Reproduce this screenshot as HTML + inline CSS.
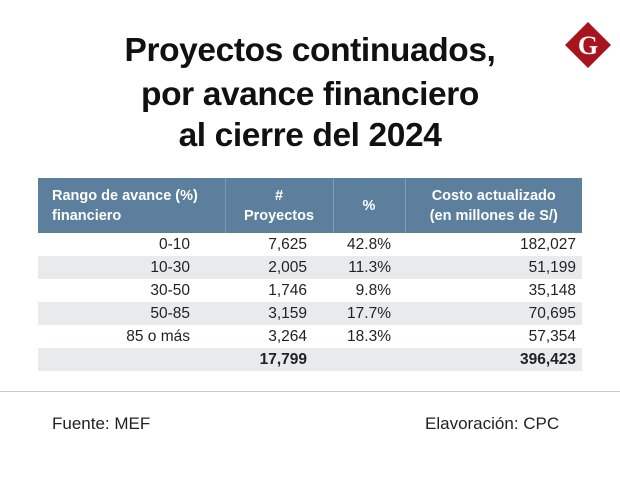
<!DOCTYPE html>
<html><head><meta charset="utf-8"><style>
body{margin:0;width:620px;height:490px;background:#fff;font-family:"Liberation Sans",sans-serif;position:relative;overflow:hidden}
.t{position:absolute;left:0;width:620px;text-align:center;font-weight:bold;font-size:33.5px;color:#111;letter-spacing:-0.4px}
table{position:absolute;left:38px;top:178px;width:544px;border-collapse:collapse;font-size:15.5px;color:#222;table-layout:fixed}
th{background:#5b7f9c;color:#fff;font-size:14.5px;font-weight:bold;height:55px;padding:0 6px;border-right:1px solid #7f9db5;line-height:20px}
th:last-child{border-right:none}
td{height:23px;padding:0 6px;text-align:right;line-height:23px}
td:nth-child(1){padding-right:35px}
td:nth-child(2){padding-right:26px}
td:nth-child(3){padding-right:14px}
tr.g td{background:#e9eaec}
.foot{position:absolute;top:414px;font-size:17px;color:#222}
</style></head><body>
<div class="t" style="top:32px">Proyectos continuados,</div>
<div class="t" style="top:76px">por avance financiero</div>
<div class="t" style="top:117px">al cierre del 2024</div>
<svg style="position:absolute;left:563px;top:20px" width="50" height="50" viewBox="0 0 50 50"><polygon points="25,2 48,25 25,48 2,25" fill="#a8141e"/><text x="25" y="34" text-anchor="middle" font-family="Liberation Serif" font-weight="bold" font-size="26" fill="#fff">G</text></svg>
<table>
<colgroup><col style="width:187px"><col style="width:108px"><col style="width:72px"><col style="width:177px"></colgroup>
<tr><th style="text-align:left;padding-left:14px">Rango de avance (%)<br>financiero</th><th>#<br>Proyectos</th><th>%</th><th>Costo actualizado<br>(en millones de S/)</th></tr>
<tr><td>0-10</td><td>7,625</td><td>42.8%</td><td>182,027</td></tr>
<tr class="g"><td>10-30</td><td>2,005</td><td>11.3%</td><td>51,199</td></tr>
<tr><td>30-50</td><td>1,746</td><td>9.8%</td><td>35,148</td></tr>
<tr class="g"><td>50-85</td><td>3,159</td><td>17.7%</td><td>70,695</td></tr>
<tr><td>85 o más</td><td>3,264</td><td>18.3%</td><td>57,354</td></tr>
<tr class="g"><td></td><td style="font-weight:bold">17,799</td><td></td><td style="font-weight:bold">396,423</td></tr>
</table>
<div style="position:absolute;left:0;top:391px;width:620px;height:1px;background:#ccc"></div>
<div class="foot" style="left:52px">Fuente: MEF</div>
<div class="foot" style="left:425px">Elavoración: CPC</div>
</body></html>
